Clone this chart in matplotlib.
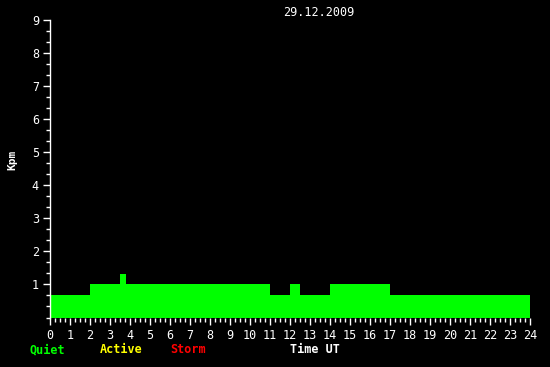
import numpy as np
import matplotlib
matplotlib.use("Agg")
import matplotlib.pyplot as plt
from matplotlib.ticker import MultipleLocator

# Kpm step values (start hour of each step, value)
step_start = [0, 2, 3.5, 3.8, 11, 12, 12.5, 14, 17]
kpm = [0.67, 1.0, 1.33, 1.0, 0.67, 1.0, 0.67, 1.0, 0.67]
day_end = 24
hours = list(range(0, 25))
kp_ticks = list(range(1, 10))

widths = np.diff(step_start + [day_end])

fig = plt.figure(figsize=(5.5, 3.67), dpi=100, facecolor="black")
ax = fig.add_axes([50 / 550, 49.5 / 367, 480 / 550, 297.5 / 367], facecolor="black")

ax.bar(step_start, kpm, width=widths, align="edge", color="#00ff00", linewidth=0)

ax.set_xlim(0, 24)
ax.set_ylim(0, 9)

mono = "DejaVu Sans Mono"
ax.set_xticks(hours)
ax.set_xticklabels([str(h) for h in hours], family=mono, fontsize=8.5, color="white")
ax.set_yticks(kp_ticks)
ax.set_yticklabels([str(k) for k in kp_ticks], family=mono, fontsize=8.5, color="white")
ax.xaxis.set_minor_locator(MultipleLocator(0.25))
ax.yaxis.set_minor_locator(MultipleLocator(1 / 3))

ax.tick_params(axis="x", which="major", length=5, width=1, color="white", pad=3)
ax.tick_params(axis="x", which="minor", length=3, width=1, color="white")
ax.tick_params(axis="y", which="major", length=5, width=1, color="white", pad=3)
ax.tick_params(axis="y", which="minor", length=3, width=1, color="white")

for side in ["top", "right", "bottom"]:
    ax.spines[side].set_visible(False)
ax.spines["left"].set_color("white")
ax.spines["left"].set_linewidth(1)

ax.set_ylabel("Kpm", family=mono, fontsize=8, fontweight="bold", color="white")
ax.yaxis.set_label_coords(-33 / 480, (317.5 - 160) / 297.5)

fig.text(319 / 550, 1 - 12 / 367, "29.12.2009", family=mono, fontsize=8.5,
         color="white", ha="center", va="center")
base = 1 - 353 / 367
fig.text(30 / 550, base, "Quiet", family=mono, fontsize=8.5, fontweight="bold",
         color="#00ff00", va="baseline")
fig.text(100 / 550, base, "Active", family=mono, fontsize=8.5, fontweight="bold",
         color="#ffff00", va="baseline")
fig.text(170 / 550, base, "Storm", family=mono, fontsize=8.5, fontweight="bold",
         color="#ff0000", va="baseline")
fig.text(290 / 550, base, "Time UT", family=mono, fontsize=8.5, fontweight="bold",
         color="white", va="baseline")

fig.savefig("out.png", dpi=100, facecolor="black")
